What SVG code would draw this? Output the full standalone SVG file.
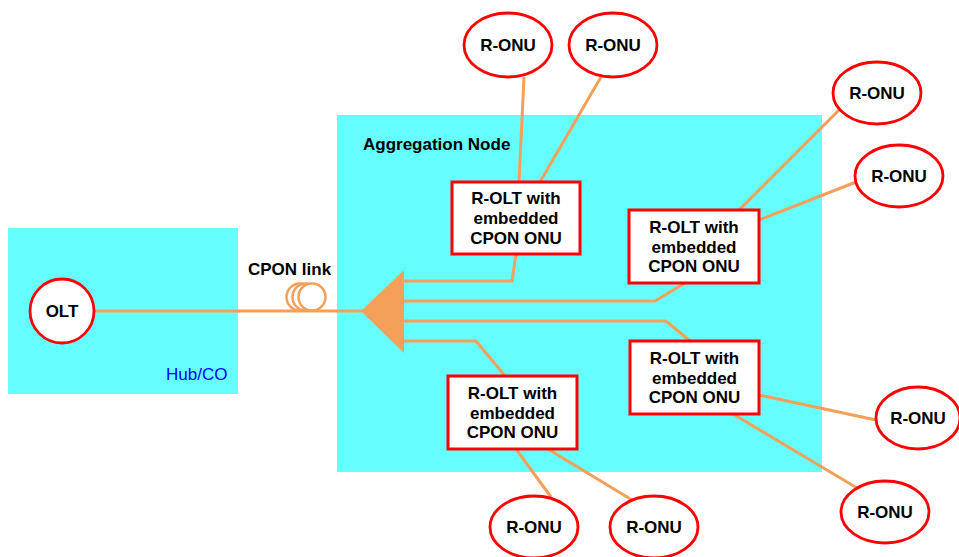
<svg xmlns="http://www.w3.org/2000/svg" width="959" height="557" viewBox="0 0 959 557">
  <style>
    .area { fill: #66FFFF; }
    .fiber { fill: none; stroke: #F5A05A; stroke-width: 3; stroke-linejoin: round; }
    .coil { fill: #FFFFFF; stroke: #F5A05A; stroke-width: 2.5; }
    .onu { fill: #FFFFFF; stroke: #FF0000; stroke-width: 2.8; }
    .rolt { fill: #FFFFFF; stroke: #FF0000; stroke-width: 3; }
    .lbl { font-family: "Liberation Sans", Arial, sans-serif; font-weight: bold; font-size: 17px; fill: #000000; }
    .mid { text-anchor: middle; }
    .site { font-family: "Liberation Sans", Arial, sans-serif; font-size: 17px; fill: #0000FF; }
  </style>

  <!-- sites -->
  <g id="hub-co">
    <rect class="area" x="8" y="228" width="230" height="166"/>
    <text class="site" x="166" y="380">Hub/CO</text>
  </g>
  <g id="aggregation-node">
    <rect class="area" x="337" y="115" width="485" height="357"/>
    <text class="lbl" x="363" y="150">Aggregation Node</text>
  </g>

  <!-- fiber connections -->
  <g id="connectors">
    <line class="fiber" x1="94" y1="311" x2="362" y2="311"/>
    <!-- splitter outputs to the R-OLTs -->
    <polyline class="fiber" points="404,281 512,281 516,254"/>
    <polyline class="fiber" points="404,301 655,301 685,283"/>
    <polyline class="fiber" points="404,321 666,321 690,341"/>
    <polyline class="fiber" points="404,341 476,341 505,376"/>
    <!-- R-OLT to R-ONU drops -->
    <line class="fiber" x1="519" y1="182" x2="524" y2="77"/>
    <line class="fiber" x1="540" y1="182" x2="601" y2="77"/>
    <line class="fiber" x1="739" y1="210" x2="839" y2="110"/>
    <line class="fiber" x1="759" y1="220" x2="856" y2="182"/>
    <line class="fiber" x1="759" y1="395" x2="876" y2="420"/>
    <line class="fiber" x1="733" y1="414" x2="857" y2="488"/>
    <line class="fiber" x1="516" y1="449" x2="551" y2="497"/>
    <line class="fiber" x1="548" y1="449" x2="632" y2="500"/>
  </g>

  <!-- fiber coil on the CPON link -->
  <g id="cpon-link">
    <circle class="coil" cx="300" cy="297" r="13.5"/>
    <circle class="coil" cx="306" cy="297" r="13.5"/>
    <circle class="coil" cx="312" cy="297" r="13.5"/>
    <text class="lbl" x="248" y="275">CPON link</text>
  </g>

  <g id="splitter">
    <polygon points="361,311 404,270 404,353" fill="#F5A05A"/>
  </g>

  <g id="olt">
    <circle class="onu" cx="62" cy="311" r="32"/>
    <text class="lbl mid" x="62" y="317">OLT</text>
  </g>

  <!-- R-OLTs -->
  <g id="rolt-1">
    <rect class="rolt" x="452" y="182" width="128" height="72"/>
    <text class="lbl mid" x="516" y="204">R-OLT with</text>
    <text class="lbl mid" x="516" y="224">embedded</text>
    <text class="lbl mid" x="516" y="244">CPON ONU</text>
  </g>
  <g id="rolt-2">
    <rect class="rolt" x="629" y="210" width="130" height="73"/>
    <text class="lbl mid" x="694" y="233">R-OLT with</text>
    <text class="lbl mid" x="694" y="253">embedded</text>
    <text class="lbl mid" x="694" y="272">CPON ONU</text>
  </g>
  <g id="rolt-3">
    <rect class="rolt" x="630" y="341" width="129" height="73"/>
    <text class="lbl mid" x="694.5" y="364">R-OLT with</text>
    <text class="lbl mid" x="694.5" y="384">embedded</text>
    <text class="lbl mid" x="694.5" y="403">CPON ONU</text>
  </g>
  <g id="rolt-4">
    <rect class="rolt" x="448" y="376" width="129" height="73"/>
    <text class="lbl mid" x="512.5" y="399">R-OLT with</text>
    <text class="lbl mid" x="512.5" y="419">embedded</text>
    <text class="lbl mid" x="512.5" y="438">CPON ONU</text>
  </g>

  <!-- R-ONUs -->
  <g id="ronu-1">
    <ellipse class="onu" cx="508" cy="45" rx="44" ry="32"/>
    <text class="lbl mid" x="508" y="51">R-ONU</text>
  </g>
  <g id="ronu-2">
    <ellipse class="onu" cx="613" cy="45" rx="44" ry="32"/>
    <text class="lbl mid" x="613" y="51">R-ONU</text>
  </g>
  <g id="ronu-3">
    <ellipse class="onu" cx="877" cy="93" rx="44" ry="31"/>
    <text class="lbl mid" x="877" y="99">R-ONU</text>
  </g>
  <g id="ronu-4">
    <ellipse class="onu" cx="899" cy="176" rx="44" ry="31"/>
    <text class="lbl mid" x="899" y="182">R-ONU</text>
  </g>
  <g id="ronu-5">
    <ellipse class="onu" cx="918" cy="418" rx="42" ry="31"/>
    <text class="lbl mid" x="918" y="424">R-ONU</text>
  </g>
  <g id="ronu-6">
    <ellipse class="onu" cx="885" cy="512" rx="44" ry="31"/>
    <text class="lbl mid" x="885" y="518">R-ONU</text>
  </g>
  <g id="ronu-7">
    <ellipse class="onu" cx="534" cy="527" rx="44" ry="31"/>
    <text class="lbl mid" x="534" y="533">R-ONU</text>
  </g>
  <g id="ronu-8">
    <ellipse class="onu" cx="654" cy="527" rx="44" ry="31"/>
    <text class="lbl mid" x="654" y="533">R-ONU</text>
  </g>
</svg>
